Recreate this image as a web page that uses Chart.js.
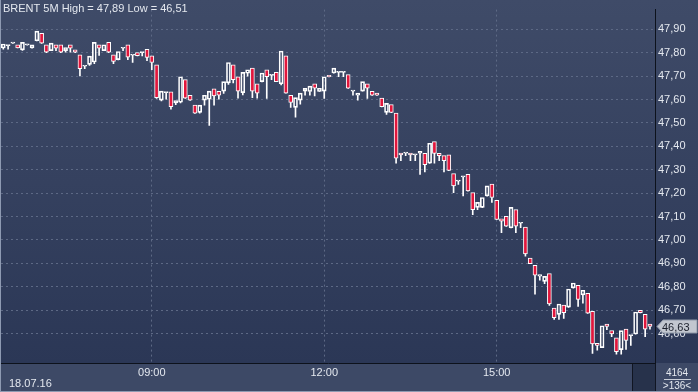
<!DOCTYPE html>
<html>
<head>
<meta charset="utf-8">
<script src="https://cdn.jsdelivr.net/npm/chart.js@4.4.1/dist/chart.umd.min.js"></script>
<style>
    html, body { margin: 0; padding: 0; background: #2c3856; }
    #wrap { width: 698px; height: 392px; }
</style>
</head>
<body>
<div id="wrap"><canvas id="chart" width="698" height="392"></canvas></div>
<script>
var symbolName = 'BRENT 5M';
var sessionDate = '18.07.16';
var startTime = '06:25';

var opens = [47.82, 47.83, 47.841, 47.833, 47.812, 47.833, 47.82, 47.851, 47.883, 47.833,
    47.809, 47.833, 47.833, 47.809, 47.833, 47.812, 47.791, 47.742, 47.75, 47.76,
    47.833, 47.809, 47.844, 47.791, 47.77, 47.819, 47.833, 47.789, 47.80, 47.80,
    47.814, 47.786, 47.748, 47.597, 47.629, 47.633, 47.585, 47.588, 47.685, 47.618,
    47.576, 47.545, 47.597, 47.601, 47.646, 47.635, 47.636, 47.671, 47.748, 47.697,
    47.629, 47.712, 47.734, 47.667, 47.676, 47.727, 47.703, 47.716, 47.667, 47.787,
    47.618, 47.566, 47.597, 47.636, 47.634, 47.667, 47.634, 47.636, 47.703, 47.713,
    47.716, 47.716, 47.706, 47.636, 47.618, 47.636, 47.667, 47.635, 47.627, 47.606,
    47.545, 47.578, 47.542, 47.371, 47.371, 47.371, 47.363, 47.371, 47.37, 47.328,
    47.42, 47.37, 47.36, 47.363, 47.283, 47.251, 47.269, 47.28, 47.202, 47.139,
    47.139, 47.188, 47.238, 47.169, 47.09, 47.101, 47.052, 47.129, 47.071, 47.055,
    46.922, 46.891, 46.845, 46.823, 46.856, 46.709, 46.682, 46.721, 46.713, 46.795,
    46.806, 46.765, 46.772, 46.695, 46.558, 46.54, 46.64, 46.612, 46.582, 46.531,
    46.619, 46.591, 46.598, 46.699, 46.682, 46.64];

var highs = [47.84, 47.832, 47.843, 47.835, 47.851, 47.834, 47.837, 47.893, 47.885, 47.834,
    47.842, 47.834, 47.834, 47.841, 47.834, 47.813, 47.792, 47.753, 47.795, 47.851,
    47.834, 47.835, 47.851, 47.792, 47.813, 47.837, 47.844, 47.806, 47.808, 47.808,
    47.818, 47.787, 47.75, 47.646, 47.636, 47.634, 47.605, 47.697, 47.686, 47.619,
    47.577, 47.618, 47.646, 47.657, 47.655, 47.636, 47.70, 47.766, 47.749, 47.698,
    47.73, 47.734, 47.735, 47.668, 47.714, 47.728, 47.706, 47.727, 47.828, 47.804,
    47.65, 47.618, 47.671, 47.671, 47.671, 47.685, 47.685, 47.706, 47.704, 47.735,
    47.734, 47.734, 47.707, 47.655, 47.628, 47.677, 47.668, 47.636, 47.667, 47.607,
    47.584, 47.579, 47.543, 47.402, 47.413, 47.385, 47.402, 47.391, 47.371, 47.43,
    47.421, 47.371, 47.361, 47.374, 47.284, 47.262, 47.27, 47.281, 47.203, 47.181,
    47.182, 47.248, 47.248, 47.17, 47.129, 47.129, 47.14, 47.13, 47.101, 47.06,
    46.95, 46.892, 46.87, 46.87, 46.857, 46.726, 46.727, 46.776, 46.844, 46.84,
    46.81, 46.868, 46.773, 46.696, 46.585, 46.651, 46.693, 46.693, 46.583, 46.613,
    46.655, 46.619, 46.693, 46.752, 46.683, 46.651];

var lows = [47.815, 47.815, 47.84, 47.82, 47.81, 47.832, 47.819, 47.85, 47.84, 47.80,
    47.808, 47.809, 47.80, 47.802, 47.802, 47.80, 47.701, 47.732, 47.746, 47.753,
    47.788, 47.808, 47.80, 47.753, 47.769, 47.809, 47.77, 47.758, 47.786, 47.786,
    47.766, 47.727, 47.605, 47.594, 47.601, 47.559, 47.578, 47.585, 47.604, 47.596,
    47.54, 47.541, 47.576, 47.489, 47.576, 47.601, 47.626, 47.664, 47.671, 47.606,
    47.619, 47.70, 47.608, 47.606, 47.675, 47.604, 47.685, 47.676, 47.662, 47.627,
    47.566, 47.524, 47.58, 47.618, 47.618, 47.615, 47.633, 47.604, 47.696, 47.712,
    47.697, 47.697, 47.647, 47.618, 47.597, 47.635, 47.604, 47.617, 47.617, 47.568,
    47.536, 47.544, 47.328, 47.339, 47.36, 47.339, 47.339, 47.28, 47.29, 47.327,
    47.328, 47.339, 47.29, 47.296, 47.202, 47.237, 47.188, 47.208, 47.108, 47.129,
    47.138, 47.187, 47.16, 47.086, 47.031, 47.058, 47.051, 47.031, 47.052, 46.93,
    46.898, 46.768, 46.828, 46.813, 46.72, 46.66, 46.66, 46.665, 46.712, 46.794,
    46.716, 46.73, 46.686, 46.515, 46.529, 46.539, 46.616, 46.587, 46.512, 46.512,
    46.532, 46.549, 46.597, 46.688, 46.587, 46.619];

var closes = [47.837, 47.83, 47.841, 47.82, 47.844, 47.833, 47.833, 47.892, 47.841, 47.802,
    47.841, 47.819, 47.802, 47.822, 47.819, 47.802, 47.732, 47.742, 47.785, 47.844,
    47.819, 47.834, 47.802, 47.763, 47.805, 47.819, 47.781, 47.789, 47.787, 47.80,
    47.78, 47.758, 47.608, 47.636, 47.629, 47.569, 47.595, 47.697, 47.606, 47.597,
    47.541, 47.576, 47.618, 47.636, 47.615, 47.618, 47.676, 47.758, 47.685, 47.636,
    47.716, 47.727, 47.636, 47.627, 47.713, 47.697, 47.703, 47.676, 47.807, 47.627,
    47.587, 47.608, 47.627, 47.648, 47.657, 47.648, 47.648, 47.697, 47.697, 47.734,
    47.716, 47.716, 47.648, 47.636, 47.627, 47.676, 47.648, 47.618, 47.618, 47.569,
    47.583, 47.545, 47.349, 47.363, 47.371, 47.363, 47.363, 47.378, 47.321, 47.413,
    47.37, 47.36, 47.339, 47.297, 47.231, 47.251, 47.269, 47.209, 47.129, 47.16,
    47.181, 47.231, 47.181, 47.087, 47.08, 47.059, 47.139, 47.059, 47.071, 46.94,
    46.898, 46.849, 46.852, 46.844, 46.726, 46.668, 46.726, 46.689, 46.79, 46.816,
    46.746, 46.785, 46.687, 46.555, 46.549, 46.633, 46.63, 46.598, 46.522, 46.612,
    46.571, 46.591, 46.692, 46.689, 46.619, 46.63];

var timeTickLabels = ['09:00', '12:00', '15:00'];
var priceTicks = [46.6, 46.7, 46.8, 46.9, 47.0, 47.1, 47.2, 47.3, 47.4, 47.5, 47.6, 47.7, 47.8, 47.9];
var barCountText = '4164';
var visibleText = '>136<';

// time label of every 5 minute bar
function pad(n) { return (n < 10 ? '0' : '') + n; }
var times = [];
var startMin = parseInt(startTime.split(':')[0], 10) * 60 + parseInt(startTime.split(':')[1], 10);
for (var i = 0; i < opens.length; i++) {
    var m = startMin + i * 5;
    times.push(pad(Math.floor(m / 60)) + ':' + pad(m % 60));
}
var timeTicks = timeTickLabels.map(function (t) { return times.indexOf(t); });

function fmt(v) { return v.toFixed(2).replace('.', ','); }

var upperWicks = [], lowerWicks = [], bodies = [], bodyColors = [];
for (var i = 0; i < opens.length; i++) {
    var top = Math.max(opens[i], closes[i]);
    var bot = Math.min(opens[i], closes[i]);
    upperWicks.push({ x: i, y: [top, highs[i]] });
    lowerWicks.push({ x: i, y: [lows[i], bot] });
    bodies.push({ x: i, y: [opens[i], closes[i]] });
    bodyColors.push(closes[i] < opens[i] ? '#e2163c' : 'rgba(0,0,0,0)');
}

var fontName = '"Liberation Sans", Arial, sans-serif';

var backgroundPlugin = {
    id: 'terminalBackground',
    beforeDraw: function (chart) {
        var ctx = chart.ctx;
        var area = chart.chartArea;
        ctx.save();
        var grad = ctx.createLinearGradient(0, 0, 0, area.bottom);
        grad.addColorStop(0, '#3f4b68');
        grad.addColorStop(1, '#2b3756');
        ctx.fillStyle = grad;
        ctx.fillRect(0, 0, chart.width, area.bottom);
        // bottom strip
        ctx.fillStyle = '#3d4966';
        ctx.fillRect(0, area.bottom, chart.width, chart.height - area.bottom);
        ctx.fillStyle = '#27324b';
        ctx.fillRect(632, area.bottom, area.right - 632, chart.height - area.bottom);
        ctx.fillStyle = '#101522';
        ctx.fillRect(632, area.bottom, 1, chart.height - area.bottom);
        ctx.fillRect(area.right, area.bottom, 1, chart.height - area.bottom);
        // left and bottom frame
        ctx.fillStyle = '#8e9ab2';
        ctx.fillRect(0, 0, 1, chart.height);
        ctx.fillRect(0, chart.height - 1, chart.width, 1);
        ctx.restore();
    },
    afterDraw: function (chart) {
        var ctx = chart.ctx;
        var area = chart.chartArea;
        var y = chart.scales.y.getPixelForValue(closes[closes.length - 1]);
        ctx.save();
        // header
        ctx.font = '11px ' + fontName;
        ctx.fillStyle = '#e4e8ef';
        ctx.textBaseline = 'alphabetic';
        ctx.textAlign = 'left';
        ctx.fillText(symbolName + ' High = ' + fmt(Math.max.apply(null, highs)) +
            ' Low = ' + fmt(Math.min.apply(null, lows)), 3, 12);
        // date
        ctx.fillText(sessionDate, 9, 387);
        // last price tag
        ctx.beginPath();
        ctx.moveTo(area.right + 2, y);
        ctx.lineTo(area.right + 8, y - 6.5);
        ctx.lineTo(697, y - 6.5);
        ctx.lineTo(697, y + 6.5);
        ctx.lineTo(area.right + 8, y + 6.5);
        ctx.closePath();
        ctx.fillStyle = '#c2c7d0';
        ctx.fill();
        ctx.strokeStyle = '#8f98a8';
        ctx.lineWidth = 1;
        ctx.stroke();
        ctx.fillStyle = '#1a1f2b';
        ctx.textBaseline = 'middle';
        ctx.fillText(fmt(closes[closes.length - 1]), area.right + 7, y + 1);
        // counters in the corner
        ctx.fillStyle = '#e4e8ef';
        ctx.textAlign = 'center';
        ctx.font = '10px ' + fontName;
        ctx.fillText(barCountText, 677, 373);
        ctx.fillText(visibleText, 677, 386);
        ctx.fillStyle = '#c9ced8';
        ctx.fillRect(664, 379, 27, 1);
        ctx.restore();
    }
};

var ctx = document.getElementById('chart');

new Chart(ctx, {
    type: 'bar',
    data: {
        datasets: [{
            data: upperWicks,
            backgroundColor: '#ffffff',
            barThickness: 1,
            grouped: false,
            borderWidth: 0
        }, {
            data: lowerWicks,
            backgroundColor: '#ffffff',
            barThickness: 1,
            grouped: false,
            borderWidth: 0
        }, {
            data: bodies,
            backgroundColor: bodyColors,
            borderColor: '#ffffff',
            borderWidth: 1,
            borderSkipped: false,
            barThickness: 4,
            minBarLength: 1,
            grouped: false
        }]
    },
    options: {
        responsive: false,
        animation: false,
        layout: { padding: { top: 3, left: 1, right: 0, bottom: 0 } },
        plugins: {
            legend: { display: false },
            tooltip: { enabled: false }
        },
        scales: {
            x: {
                type: 'linear',
                offset: false,
                min: -0.48,
                max: 136.05,
                afterBuildTicks: function (scale) {
                    scale.ticks = timeTicks.map(function (v) { return { value: v }; });
                },
                afterFit: function (scale) { scale.height = 29; },
                ticks: {
                    autoSkip: false,
                    maxRotation: 0,
                    padding: 3,
                    color: '#e4e8ef',
                    font: { family: fontName, size: 11 },
                    callback: function (v) { return times[v]; }
                },
                grid: {
                    offset: false,
                    drawTicks: false,
                    color: '#5d6985',
                    lineWidth: 1
                },
                border: { display: true, color: '#0d121c', width: 1, dash: [2, 3] }
            },
            y: {
                position: 'right',
                min: 46.474,
                max: 47.984,
                afterBuildTicks: function (scale) {
                    scale.ticks = priceTicks.map(function (v) { return { value: v }; });
                },
                afterFit: function (scale) { scale.width = 43; },
                ticks: {
                    padding: 3,
                    color: '#e4e8ef',
                    font: { family: fontName, size: 11 },
                    callback: function (v) { return fmt(v); }
                },
                grid: {
                    drawTicks: false,
                    color: '#5d6985',
                    lineWidth: 1
                },
                border: { display: true, color: '#0d121c', width: 1, dash: [2, 3] }
            }
        }
    },
    plugins: [backgroundPlugin]
});
</script>
</body>
</html>
